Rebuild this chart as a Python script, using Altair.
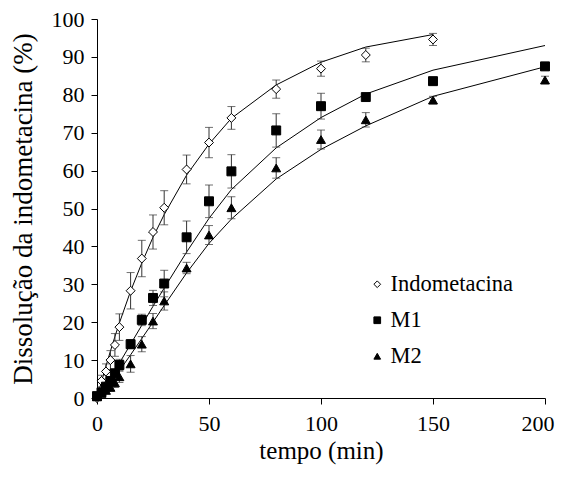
import altair as alt
import pandas as pd

# ---- data ----
times_indo = [0, 2, 4, 6, 8, 10, 15, 20, 25, 30, 40, 50, 60, 80, 100, 120, 150]
indo_mean = [0, 4.5, 7, 10, 14, 18.7, 28.3, 36.8, 43.8, 50.2, 60.3, 67.4, 73.9, 81.5, 86.9, 90.5, 94.6]
indo_sd = [0, 1.5, 2, 2.5, 3, 3.5, 4.8, 4.8, 4.5, 4.5, 3.8, 4, 3, 2.4, 2, 1.8, 1.6]
indo_fit = [0, 4.3, 8.4, 12.4, 16.2, 19.8, 28.2, 35.6, 42.4, 48.4, 58.8, 67, 73.8, 82.6, 88.6, 92.6, 95.9]

times_m = [0, 2, 4, 6, 8, 10, 15, 20, 25, 30, 40, 50, 60, 80, 100, 120, 150, 200]
m1_mean = [0.5, 1.5, 3, 4.5, 6.5, 8.7, 14.2, 20.6, 26.4, 30.2, 42.4, 51.9, 59.8, 70.6, 77, 79.4, 83.6, 87.5]
m1_sd = [0, 0.5, 0.8, 1, 1.2, 1.5, 1.2, 1.5, 2, 3.5, 4.3, 4.3, 4.4, 4.4, 3.4, 0.8, 1, 0.8]
m1_fit = [0, 1.6, 3.4, 5.3, 7.2, 9.2, 14.2, 19.2, 24.2, 29, 38.5, 47.4, 55, 66, 74, 80.2, 86.5, 93]

m2_mean = [0.3, 1.2, 2, 2.8, 4, 5.6, 9, 14.2, 20.3, 25.6, 34.3, 43, 50.2, 60.7, 68.2, 73.4, 78.6, 83.9]
m2_sd = [0, 0.5, 0.8, 1, 1.2, 1.5, 2.2, 2, 2, 2.4, 1.5, 2.5, 2.9, 2.7, 2.5, 1.9, 1, 1]
m2_fit = [0, 1.2, 2.6, 4.1, 5.6, 7.2, 11.4, 15.7, 20, 24.4, 33, 40.8, 47.2, 57.8, 65.6, 71.8, 79.6, 87.4]

series_names = ["Indometacina", "M1", "M2"]
x_ticks = [0, 50, 100, 150, 200]
y_ticks = [0, 10, 20, 30, 40, 50, 60, 70, 80, 90, 100]

rows = []
for name, ts, mean, sd, fit in [
    ("Indometacina", times_indo, indo_mean, indo_sd, indo_fit),
    ("M1", times_m, m1_mean, m1_sd, m1_fit),
    ("M2", times_m, m2_mean, m2_sd, m2_fit),
]:
    for t, m, s, f in zip(ts, mean, sd, fit):
        rows.append({"serie": name, "t": t, "v": m, "lo": m - s, "hi": m + s, "fit": f})
df = pd.DataFrame(rows)

FONT = "Liberation Serif"

xscale = alt.Scale(domain=[0, 200], nice=False)
yscale = alt.Scale(domain=[0, 100], nice=False)
x_axis = alt.Axis(title="tempo (min)", values=x_ticks, grid=False, tickSize=6,
                  labelPadding=9, titlePadding=4, labelFlush=False, labelOverlap=False,
                  labelAlign={"condition": {"test": "datum.value == 200", "value": "right"},
                              "value": "center"},
                  labelOffset={"condition": {"test": "datum.value == 200", "value": 9},
                               "value": 0},
                  labelFont=FONT, titleFont=FONT, labelFontSize=22, titleFontSize=25)
y_axis = alt.Axis(title="Dissolução da indometacina (%)", values=y_ticks, tickCount=11,
                  grid=False, tickSize=6, labelPadding=7, titlePadding=14,
                  labelOverlap=False, labelFlush=False,
                  labelFont=FONT, titleFont=FONT, labelFontSize=22, titleFontSize=27)

base = alt.Chart(df)

lines = base.mark_line(color="black", strokeWidth=1).encode(
    x=alt.X("t:Q", scale=xscale, axis=x_axis),
    y=alt.Y("fit:Q", scale=yscale, axis=y_axis),
    detail="serie:N",
)

bars = base.mark_rule(color="#333333", strokeWidth=1).encode(
    x=alt.X("t:Q", scale=xscale, axis=x_axis),
    y=alt.Y("lo:Q", scale=yscale, axis=y_axis), y2="hi:Q"
)
caps_hi = base.mark_tick(color="#333333", thickness=1, size=8, orient="horizontal").encode(
    x=alt.X("t:Q", scale=xscale, axis=x_axis),
    y=alt.Y("hi:Q", scale=yscale, axis=y_axis)
)
caps_lo = base.mark_tick(color="#333333", thickness=1, size=8, orient="horizontal").encode(
    x=alt.X("t:Q", scale=xscale, axis=x_axis),
    y=alt.Y("lo:Q", scale=yscale, axis=y_axis)
)

def make_legend():
    return alt.Legend(title=None, orient="none", legendX=269, legendY=254,
                      labelFont=FONT, labelFontSize=22.5, labelColor="black",
                      symbolSize=45, symbolStrokeWidth=1,
                      rowPadding=13, labelOffset=2, padding=0)

points = base.mark_point(filled=False, strokeWidth=1, size=80, opacity=1).encode(
    x=alt.X("t:Q", scale=xscale, axis=x_axis),
    y=alt.Y("v:Q", scale=yscale, axis=y_axis),
    shape=alt.Shape("serie:N", scale=alt.Scale(domain=series_names,
                                                range=["diamond", "square", "triangle-up"]),
                    legend=make_legend()),
    fill=alt.Fill("serie:N", scale=alt.Scale(domain=series_names,
                                             range=["white", "black", "black"]),
                  legend=make_legend()),
    stroke=alt.Stroke("serie:N", scale=alt.Scale(domain=series_names,
                                                 range=["black", "black", "black"]),
                      legend=make_legend()),
)

chart = alt.layer(lines, bars, caps_hi, caps_lo, points).properties(
    width=448, height=379,
    autosize=alt.AutoSizeParams(type="none"),
    padding={"left": 89, "top": 11, "right": 10, "bottom": 68},
    background="white",
).configure(font=FONT).configure_view(stroke=None).configure_axis(
    labelColor="black", titleColor="black", titleFontWeight="normal",
    domainColor="black", tickColor="black", domainWidth=1, tickWidth=1,
).configure_legend(labelFont=FONT)

chart.save("out.html", embed_options={"renderer": "svg", "actions": False})
